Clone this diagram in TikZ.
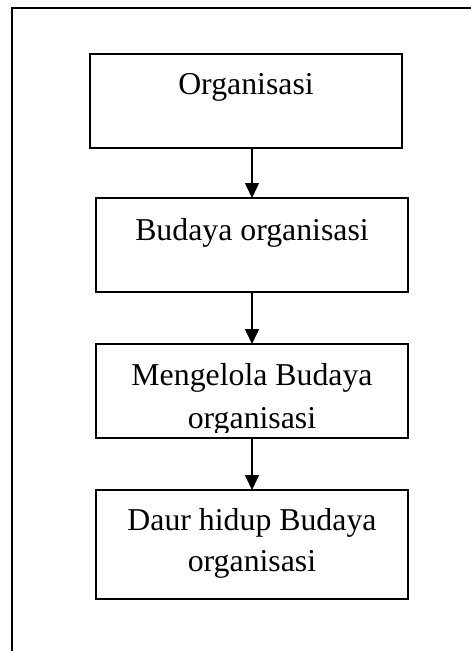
\documentclass[tikz,border=0pt]{standalone}
\usepackage{fontspec}
\setmainfont{Liberation Serif}
\usetikzlibrary{arrows.meta}
\begin{document}
\begin{tikzpicture}[x=1pt,y=-1pt,
  stepbox/.style={draw,line width=1.7pt,minimum width=312pt,inner sep=0pt,outer sep=0pt},
  lbl/.style={anchor=base,inner sep=0pt,font=\fontsize{31.8}{41}\selectfont},
  flow/.style={line width=1.6pt,-{Triangle[length=15pt,width=14pt]}}]
\useasboundingbox (0,0) rectangle (471,651);
% open frame
\coordinate (fbl) at (12,652);
\coordinate (ftl) at (12,8);
\coordinate (ftr) at (472,8);
\draw[line width=2.2pt] (fbl) -- (ftl) -- (ftr);
% boxes
\node[stepbox,minimum height=94pt] (b1) at (246,101) {};
\node[stepbox,minimum height=94pt] (b2) at (252,245) {};
\node[stepbox,minimum height=94pt] (b3) at (252,391) {};
\node[stepbox,minimum height=109pt] (b4) at (252,544.5) {};
% texts
\node[lbl] (t1) at (246,94) {Organisasi};
\node[lbl] (t2) at (252,240) {Budaya organisasi};
\node[lbl] (t3a) at (252,385) {Mengelola Budaya};
\begin{scope}
\clip (b3.west |- 0,400) rectangle (b3.east |- 0,432.5);
\node[lbl] (t3b) at (252,428) {organisasi};
\end{scope}
\node[lbl] (t4a) at (252,530) {Daur hidup Budaya};
\node[lbl] (t4b) at (252,571) {organisasi};
% arrows
\draw[flow] (b1.south -| b2.north) -- (b2.north);
\draw[flow] (b2.south) -- (b3.north);
\draw[flow] (b3.south) -- (b4.north);
\end{tikzpicture}
\end{document}
